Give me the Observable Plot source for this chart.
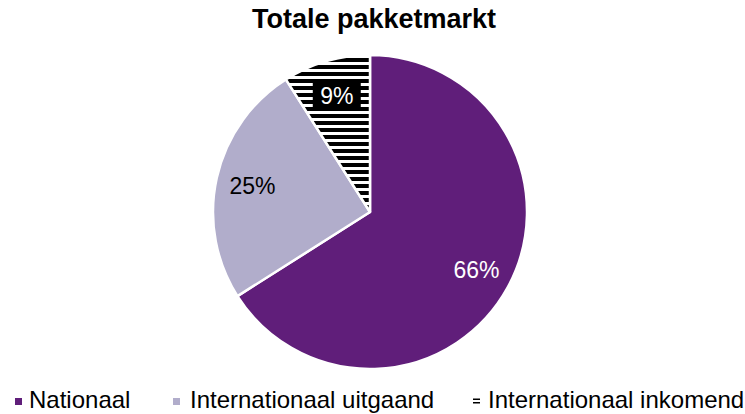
<!DOCTYPE html>
<html>
<head>
<meta charset="utf-8">
<script src="https://cdn.jsdelivr.net/npm/d3@7"></script>
<script src="https://cdn.jsdelivr.net/npm/@observablehq/plot@0.6"></script>
<style>
  body { margin: 0; width: 745px; height: 414px; position: relative; overflow: hidden; background: #fff;
         font-family: "Liberation Sans", Arial, sans-serif; color: #000; }
  #title { position: absolute; left: 0; width: 748px; top: 6px; text-align: center; font-weight: bold;
           font-size: 27px; line-height: 27px; }
  #chart { position: absolute; left: 0; top: 40px; }
  #legend { position: absolute; left: 0; top: 0; width: 745px; height: 414px; font-size: 24px; line-height: 24px; white-space: nowrap; pointer-events: none; }
  .lt { position: absolute; top: 388px; }
  .sw { position: absolute; top: 398px; width: 7px; height: 7px; }
</style>
</head>
<body>
<div id="title">Totale pakketmarkt</div>
<div id="chart"></div>
<div id="legend"></div>
<script>
// ---- data ----
const categories = ["Nationaal", "Internationaal uitgaand", "Internationaal inkomend"];
const shares = [66, 25, 9];
const labels = ["66%", "25%", "9%"];

// ---- style ----
const colors = ["#601e7a", "#b1adcb", "url(#stripes)"];
const labelColors = ["#fff", "#000", "#fff"];
const labelRadius = 0.77;

const rows = categories.map((c, i) => ({category: c, share: shares[i], label: labels[i], ink: labelColors[i]}));
const arcs = d3.pie().sort(null).value(d => d.share)(rows);
arcs.forEach(a => {
  const mid = (a.startAngle + a.endAngle) / 2;
  a.data.lx = labelRadius * Math.sin(mid);
  a.data.ly = labelRadius * Math.cos(mid);
});
const colorMap = new Map(categories.map((c, i) => [c, colors[i]]));

function slices(index, scales) {
  const {x, y} = scales;
  const fillOf = scales.color ?? (c => colorMap.get(c));
  const cx = x(0), cy = y(0), r = Math.abs(x(1) - x(0));
  const g = d3.create("svg:g");
  const p = g.append("defs").append("pattern")
    .attr("id", "stripes").attr("patternUnits", "userSpaceOnUse")
    .attr("width", 8).attr("height", 7);
  p.append("rect").attr("width", 8).attr("height", 7).attr("fill", "#fff");
  p.append("rect").attr("width", 8).attr("height", 4).attr("fill", "#000");
  const arc = d3.arc().innerRadius(0).outerRadius(r);
  g.selectAll("path").data(arcs).join("path")
    .attr("transform", `translate(${cx},${cy})`)
    .attr("d", arc)
    .attr("fill", d => fillOf(d.data.category))
    .attr("stroke", "#fff")
    .attr("stroke-width", 2.5)
    .attr("stroke-linejoin", "round");
  return g.node();
}

const boxSymbol = {draw(ctx) { ctx.moveTo(-24, -15); ctx.lineTo(24, -15); ctx.lineTo(24, 15); ctx.lineTo(-24, 15); ctx.closePath(); }};

const plot = Plot.plot({
  width: 745,
  height: 345,
  margin: 0,
  style: {fontFamily: "'Liberation Sans', Arial, sans-serif", background: "transparent"},
  x: {domain: [-1, 1], range: [213, 527], axis: null},
  y: {domain: [-1, 1], range: [329, 15], axis: null},
  color: {type: "ordinal", domain: categories, range: colors},
  marks: [
    slices,
    Plot.dot(rows.filter(d => d.category === "Internationaal inkomend"), {
      x: "lx", y: "ly", symbol: boxSymbol, fill: "#000", stroke: "none", r: 10, dy: -1
    }),
    Plot.text(rows, {
      x: "lx", y: "ly", text: "label", fill: d => d.ink, fontSize: 23
    })
  ]
});
document.getElementById("chart").appendChild(plot);

// ---- legend ----
const swatchX = [15, 173, 473];
const textX = [29, 190, 488];
const legend = d3.select("#legend");
categories.forEach((c, i) => {
  const sw = legend.append("svg").attr("class", "sw").style("left", swatchX[i] + "px")
    .attr("width", 7).attr("height", 7);
  if (i === 2) {
    sw.append("rect").attr("width", 7).attr("height", 7).attr("fill", "#fff");
    sw.append("rect").attr("y", 0.5).attr("width", 7).attr("height", 1.5).attr("fill", "#000");
    sw.append("rect").attr("y", 4).attr("width", 7).attr("height", 1.5).attr("fill", "#000");
  } else {
    sw.append("rect").attr("width", 7).attr("height", 7).attr("fill", colorMap.get(c));
  }
  legend.append("span").attr("class", "lt").style("left", textX[i] + "px").text(c);
});
</script>
</body>
</html>
